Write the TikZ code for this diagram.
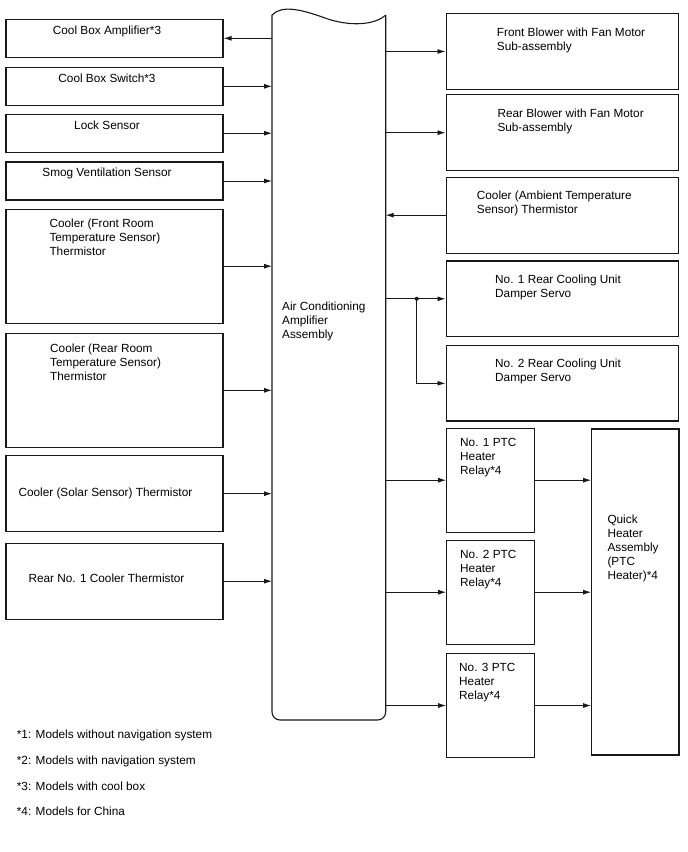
\documentclass[tikz,border=0pt]{standalone}
\usepackage{fontspec}
\setmainfont{Liberation Sans}
\usetikzlibrary{arrows.meta}

\begin{document}
\begin{tikzpicture}[x=1pt,y=-1pt,
  box/.style={draw=black!90,line width=1.1pt,rectangle,inner sep=0pt},
  txt/.style={inner sep=0pt,align=left,anchor=base west,font=\fontsize{11.8}{14}\selectfont},
  arr/.style={draw=black!90,line width=0.9pt,-{Latex[length=8pt,width=5pt]}}]

\useasboundingbox (0,0) rectangle (688,852);

% positions
\def\lx{114.5}
\def\rx{562.2}
\def\lw{217}
\def\rw{232.3}
\def\ls{14}% line step (base anchor sits on the last line)

% left column
\node[box,minimum width=\lw,minimum height=38]   (cba)  at (\lx,38.3)  {};
\node[box,minimum width=\lw,minimum height=38]   (cbs)  at (\lx,86.3)  {};
\node[box,minimum width=\lw,minimum height=38.3] (lock) at (\lx,133.2) {};
\node[box,minimum width=\lw,minimum height=38]   (smog) at (\lx,181)   {};
\node[box,minimum width=\lw,minimum height=114.3] (frt) at (\lx,266.2) {};
\node[box,minimum width=\lw,minimum height=114]  (rrt)  at (\lx,390.3) {};
\node[box,minimum width=\lw,minimum height=76]   (sol)  at (\lx,493.7) {};
\node[box,minimum width=\lw,minimum height=75.7] (rno)  at (\lx,581.2) {};

\node[txt,anchor=base] (cbaT)  at (107,34.3)  {Cool Box Amplifier*3};
\node[txt,anchor=base] (cbsT)  at (107,82.6)  {Cool Box Switch*3};
\node[txt,anchor=base] (lockT) at (107,129.3) {Lock Sensor};
\node[txt,anchor=base] (smogT) at (107,176.6) {Smog Ventilation Sensor};
\node[txt] (frtT) at (49.3,227.6+2*\ls) {Cooler (Front Room\\Temperature Sensor)\\Thermistor};
\node[txt] (rrtT) at (50,352+2*\ls)     {Cooler (Rear Room\\Temperature Sensor)\\Thermistor};
\node[txt] (solT) at (18.3,496.6) {Cooler (Solar Sensor) Thermistor};
\node[txt] (rnoT) at (28.3,582.6) {Rear No. 1 Cooler Thermistor};

% amplifier (wavy top, rounded bottom)
\node[inner sep=0pt,outer sep=0pt,minimum width=113.7,minimum height=705] (acu) at (328.85,367.5) {};
\draw[black!90,line width=1.1pt] (385.7,15) [rounded corners=8pt]-- (385.7,720) -- (272,720) [sharp corners]-- (272,15)
  .. controls (282,5) and (300,9) .. (325,18) .. controls (350,27) and (375,25) .. (385.7,15);
\node[txt] (acuT) at (282,310.3+2*\ls) {Air Conditioning\\Amplifier\\Assembly};

% right column
\node[box,minimum width=\rw,minimum height=75.6] (fblw) at (\rx,51.5)  {};
\node[box,minimum width=\rw,minimum height=76]   (rblw) at (\rx,132.7) {};
\node[box,minimum width=\rw,minimum height=76.3] (amb)  at (\rx,215.2) {};
\node[box,minimum width=\rw,minimum height=75.7] (dmp1) at (\rx,298.8) {};
\node[box,minimum width=\rw,minimum height=75.3] (dmp2) at (\rx,383.3) {};

\node[txt] (fblwT) at (496.7,36.6+\ls)  {Front Blower with Fan Motor\\Sub-assembly};
\node[txt] (rblwT) at (497.3,117.6+\ls) {Rear Blower with Fan Motor\\Sub-assembly};
\node[txt] (ambT)  at (476.7,199.3+\ls) {Cooler (Ambient Temperature\\Sensor) Thermistor};
\node[txt] (dmp1T) at (495,283.6+\ls)   {No. 1 Rear Cooling Unit\\Damper Servo};
\node[txt] (dmp2T) at (495,367.6+\ls)   {No. 2 Rear Cooling Unit\\Damper Servo};

% heater relays
\node[box,minimum width=87.6,minimum height=103.7] (rly1) at (490.5,480.2) {};
\node[box,minimum width=87.6,minimum height=103.7] (rly2) at (490.5,592.2) {};
\node[box,minimum width=87.6,minimum height=103.7] (rly3) at (490.5,705.5) {};
\node[box,minimum width=87.3,minimum height=326]   (qh)   at (635.3,592)   {};

\node[txt] (rly1T) at (460,446+2*\ls)   {No. 1 PTC\\Heater\\Relay*4};
\node[txt] (rly2T) at (460,558+2*\ls)   {No. 2 PTC\\Heater\\Relay*4};
\node[txt] (rly3T) at (459,671.3+2*\ls) {No. 3 PTC\\Heater\\Relay*4};
\node[txt] (qhT)   at (607.3,523.3+4*\ls) {Quick\\Heater\\Assembly\\(PTC\\Heater)*4};

% connectors
\draw[arr] (acu.west |- cba.east) -- (cba.east);
\foreach \n in {cbs,lock,smog,frt,rrt,sol,rno}
  \draw[arr] (\n.east) -- (acu.west |- \n.east);
\foreach \n in {fblw,rblw,dmp1}
  \draw[arr] (acu.east |- \n.west) -- (\n.west);
\draw[arr] (amb.west) -- (acu.east |- amb.west);

\coordinate (jn) at (416.7,298.8);
\fill[black!90] (jn) circle (2);
\draw[arr] (jn) |- (dmp2.west);

\foreach \n in {rly1,rly2,rly3} {
  \draw[arr] (acu.east |- \n.west) -- (\n.west);
  \draw[arr] (\n.east) -- (qh.west |- \n.east);
}

% notes
\node[txt] (n1) at (16.7,738.6) {*1: Models without navigation system};
\node[txt] (n2) at (16.7,764.6) {*2: Models with navigation system};
\node[txt] (n3) at (16.7,790.3) {*3: Models with cool box};
\node[txt] (n4) at (16.7,815)   {*4: Models for China};

\end{tikzpicture}
\end{document}
